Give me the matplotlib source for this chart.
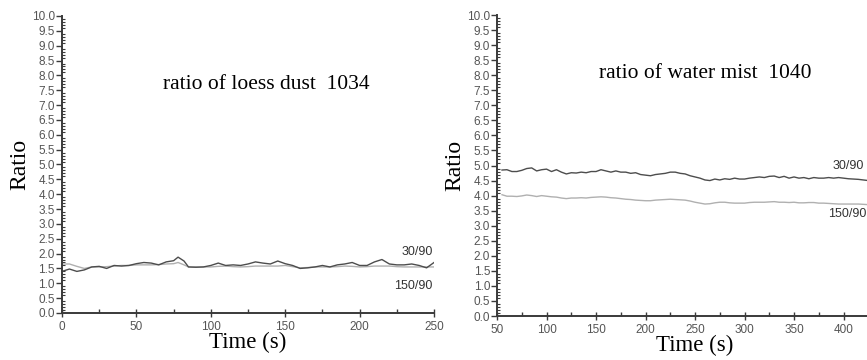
import matplotlib
matplotlib.use("Agg")
import matplotlib.pyplot as plt
from matplotlib.ticker import MultipleLocator

# datos
t_loess = [0, 5, 10, 15, 20, 25, 30, 35, 40, 45, 50, 55, 60, 65, 70, 75, 78, 82, 85,
           90, 95, 100, 105, 110, 115, 120, 125, 130, 135, 140, 145, 150, 155, 160,
           165, 170, 175, 180, 185, 190, 195, 200, 205, 210, 215, 220, 225, 230, 235,
           240, 245, 250]
loess_30 = [1.40, 1.48, 1.40, 1.45, 1.55, 1.57, 1.50, 1.60, 1.58, 1.60, 1.66, 1.70, 1.68,
            1.62, 1.72, 1.76, 1.88, 1.75, 1.55, 1.54, 1.55, 1.60, 1.68, 1.60, 1.62, 1.60,
            1.65, 1.72, 1.68, 1.65, 1.75, 1.66, 1.60, 1.50, 1.52, 1.55, 1.60, 1.55, 1.62,
            1.65, 1.70, 1.60, 1.60, 1.72, 1.80, 1.65, 1.62, 1.62, 1.65, 1.60, 1.52, 1.70]
loess_150 = [1.65, 1.65, 1.57, 1.50, 1.55, 1.55, 1.56, 1.58, 1.60, 1.60, 1.62, 1.62, 1.62,
             1.63, 1.65, 1.66, 1.70, 1.62, 1.55, 1.55, 1.55, 1.55, 1.57, 1.58, 1.56, 1.55,
             1.56, 1.58, 1.58, 1.58, 1.58, 1.60, 1.56, 1.52, 1.53, 1.55, 1.55, 1.55, 1.56,
             1.58, 1.57, 1.55, 1.56, 1.58, 1.58, 1.58, 1.56, 1.55, 1.55, 1.55, 1.55, 1.55]

t_mist = [55, 60, 65, 70, 75, 80, 85, 90, 95, 100, 105, 110, 115, 120, 125, 130, 135,
          140, 145, 150, 155, 160, 165, 170, 175, 180, 185, 190, 195, 200, 205, 210, 215,
          220, 225, 230, 235, 240, 245, 250, 255, 260, 265, 270, 275, 280, 285, 290, 295,
          300, 305, 310, 315, 320, 325, 330, 335, 340, 345, 350, 355, 360, 365, 370, 375,
          380, 385, 390, 395, 400, 405, 410, 415, 420, 425]
mist_30 = [4.85, 4.86, 4.80, 4.80, 4.84, 4.90, 4.92, 4.82, 4.86, 4.88, 4.80, 4.86, 4.78,
           4.72, 4.76, 4.75, 4.78, 4.76, 4.80, 4.80, 4.86, 4.82, 4.78, 4.82, 4.78, 4.78,
           4.74, 4.76, 4.70, 4.68, 4.66, 4.70, 4.72, 4.74, 4.78, 4.78, 4.74, 4.72, 4.66,
           4.62, 4.58, 4.52, 4.50, 4.55, 4.52, 4.56, 4.54, 4.58, 4.55, 4.55, 4.58, 4.60,
           4.62, 4.60, 4.64, 4.65, 4.60, 4.64, 4.58, 4.62, 4.58, 4.60, 4.56, 4.60, 4.58,
           4.58, 4.60, 4.58, 4.60, 4.58, 4.56, 4.55, 4.54, 4.52, 4.50]
mist_150 = [4.03, 3.98, 3.98, 3.97, 3.99, 4.02, 4.00, 3.97, 4.00, 3.98, 3.96, 3.95, 3.92,
            3.90, 3.92, 3.92, 3.93, 3.92, 3.94, 3.95, 3.96, 3.95, 3.93, 3.92, 3.90, 3.88,
            3.87, 3.85, 3.84, 3.83, 3.83, 3.85, 3.86, 3.87, 3.88, 3.87, 3.86, 3.85, 3.82,
            3.78, 3.75, 3.72, 3.73, 3.76, 3.78, 3.78, 3.76, 3.75, 3.75, 3.75, 3.77, 3.78,
            3.78, 3.78, 3.79, 3.80, 3.78, 3.78, 3.77, 3.78, 3.76, 3.76, 3.77, 3.77, 3.75,
            3.75, 3.74, 3.73, 3.72, 3.72, 3.72, 3.72, 3.72, 3.71, 3.70]

ticks_mist = [50, 100, 150, 200, 250, 300, 350, 400]

oscuro = "#4d4d4d"
claro = "#b0b0b0"
eje = "#3a3a3a"
texto_ticks = "#555555"

fig = plt.figure(figsize=(8.67, 3.6), dpi=100)
ax1 = fig.add_axes([0.0715, 0.1306, 0.4291, 0.825])
ax2 = fig.add_axes([0.5733, 0.1222, 0.4567, 0.8361])


def estilo(ax, x0, x1):
    ax.set_ylim(0, 10)
    ax.set_xlim(x0, x1)
    ax.yaxis.set_major_locator(MultipleLocator(0.5))
    ax.yaxis.set_minor_locator(MultipleLocator(0.1))
    ax.xaxis.set_major_locator(MultipleLocator(50))
    ax.xaxis.set_minor_locator(MultipleLocator(25))
    ax.yaxis.set_major_formatter(plt.FormatStrFormatter("%.1f"))
    for s in ["top", "right"]:
        ax.spines[s].set_visible(False)
    for s in ["left", "bottom"]:
        ax.spines[s].set_color(eje)
        ax.spines[s].set_linewidth(1.4)
    ax.tick_params(axis="y", which="major", direction="out", length=4, width=1,
                   color=eje, labelsize=8.5, labelcolor=texto_ticks, pad=1)
    ax.tick_params(axis="y", which="minor", direction="in", length=2, width=0.8, color=eje)
    ax.tick_params(axis="x", which="major", direction="inout", length=6, width=1,
                   color=eje, labelsize=8.5, labelcolor=texto_ticks, pad=3)
    ax.tick_params(axis="x", which="minor", direction="in", length=3, width=1, color=eje)
    ax.set_xlabel("Time (s)", family="Liberation Serif", fontsize=16.5, labelpad=-1)
    ax.set_ylabel("Ratio", family="Liberation Serif", fontsize=17, labelpad=1)


def fuente_ticks(ax):
    for lab in ax.get_xticklabels() + ax.get_yticklabels():
        lab.set_family("Liberation Sans")


estilo(ax1, 0, 250)
fuente_ticks(ax1)
ax1.plot(t_loess, loess_150, color=claro, lw=1.0)
ax1.plot(t_loess, loess_30, color=oscuro, lw=1.0)
ax1.text(137, 7.7, "ratio of loess dust  1034", family="Liberation Serif", fontsize=15.5,
         ha="center", va="center")
ax1.text(249, 2.05, "30/90", family="Liberation Sans", fontsize=9, color="#333333",
         ha="right", va="center")
ax1.text(249, 0.9, "150/90", family="Liberation Sans", fontsize=9, color="#333333",
         ha="right", va="center")

estilo(ax2, 50, 450)
ax2.set_xticks(ticks_mist)
fuente_ticks(ax2)
ax2.plot(t_mist, mist_150, color=claro, lw=1.0)
ax2.plot(t_mist, mist_30, color=oscuro, lw=1.0)
ax2.text(260, 8.05, "ratio of water mist  1040", family="Liberation Serif", fontsize=15.5,
         ha="center", va="center")
ax2.text(389, 5.0, "30/90", family="Liberation Sans", fontsize=9, color="#333333",
         ha="left", va="center")
ax2.text(384, 3.4, "150/90", family="Liberation Sans", fontsize=9, color="#333333",
         ha="left", va="center")

fig.savefig("out.png", dpi=100)
